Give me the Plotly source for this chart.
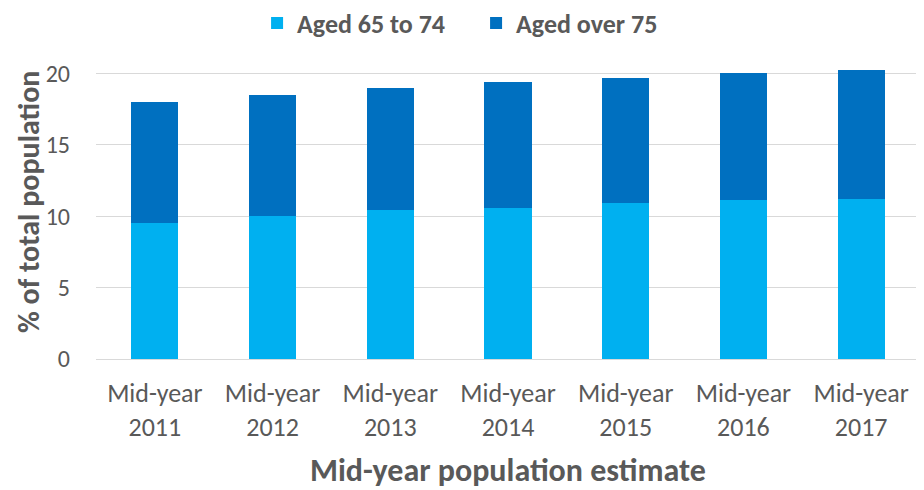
import plotly.graph_objects as go

years = ["2011", "2012", "2013", "2014", "2015", "2016", "2017"]
tick_prefix = "Mid-year"
aged_65_74 = [9.5, 10.0, 10.4, 10.6, 10.9, 11.1, 11.2]
aged_over_75 = [8.5, 8.5, 8.6, 8.8, 8.8, 8.9, 9.0]
series_names = ["Aged 65 to 74", "Aged over 75"]
y_ticks = [0, 5, 10, 15, 20]
x_title = "Mid-year population estimate"
y_title = "% of total population"

FONT = "Carlito, Lato, sans-serif"
GREY = "#595959"

# The page body has an 8px margin, so the figure is 8px smaller on each axis
W, H = 916, 482

fig = go.Figure()
fig.add_trace(go.Bar(x=years, y=aged_65_74, name=series_names[0], marker_color="#00B0F0",
                     marker_line_width=0))
fig.add_trace(go.Bar(x=years, y=aged_over_75, name=series_names[1], marker_color="#0070C0",
                     marker_line_width=0))

annotations = [
    dict(x=0.5, xref="paper", y=0, yref="paper", yanchor="middle", yshift=-111,
         text="<b>" + x_title + "</b>", showarrow=False,
         font=dict(family=FONT, size=32, color=GREY)),
    dict(x=0, xref="paper", xanchor="center", xshift=-68, y=0.541, yref="paper",
         yanchor="middle", text="<b>" + y_title + "</b>", textangle=-90, showarrow=False,
         borderpad=0, font=dict(family=FONT, size=30, color=GREY)),
]

fig.update_layout(
    barmode="stack",
    bargap=0.6,
    width=W, height=H,
    margin=dict(l=88, r=4, t=61, b=131),
    paper_bgcolor="white", plot_bgcolor="white",
    font=dict(family=FONT, color=GREY),
    legend=dict(orientation="h", x=0.511, xanchor="center", xref="container",
                y=1 - 15 / H, yanchor="middle", yref="container",
                font=dict(family=FONT, size=26, color=GREY, weight="bold"),
                traceorder="normal", itemwidth=30, entrywidth=174),
    xaxis=dict(type="category", range=[-0.5, len(years) - 0.5], automargin=False,
               tickmode="array", tickvals=years,
               ticktext=[tick_prefix + "<br>" + y for y in years],
               tickfont=dict(family=FONT, size=26, color=GREY), ticks="", showgrid=False,
               showline=False, ticklabelstandoff=16),
    yaxis=dict(range=[0, 20.3], tickvals=y_ticks, showgrid=True, gridcolor="#D9D9D9",
               gridwidth=1, zeroline=True, zerolinecolor="#D9D9D9", zerolinewidth=1,
               automargin=False, ticklabelstandoff=25,
               tickfont=dict(family=FONT, size=24, color=GREY), ticks="", ticklen=0),
    annotations=annotations,
)

fig.write_html("out.html")
